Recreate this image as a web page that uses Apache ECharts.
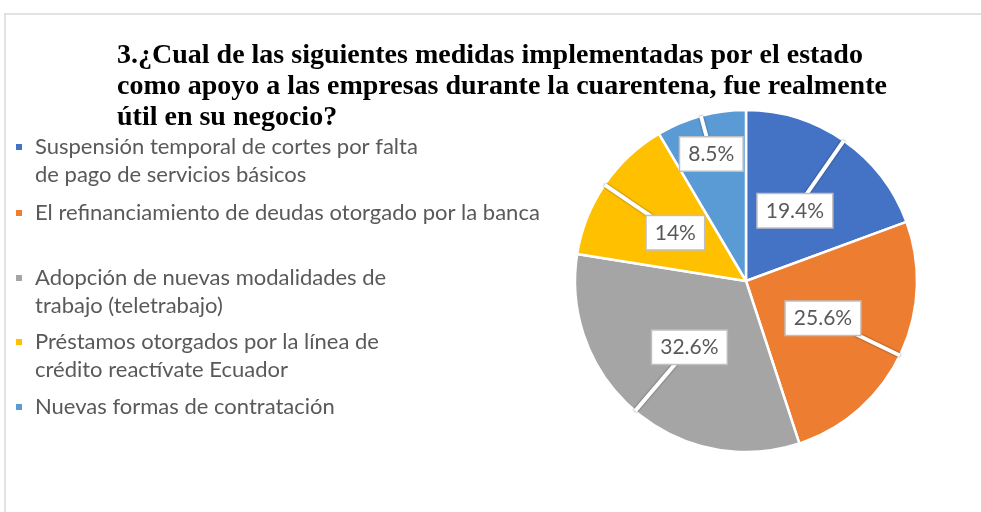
<!DOCTYPE html>
<html>
<head>
<meta charset="utf-8">
<script src="https://cdn.jsdelivr.net/npm/echarts@6/dist/echarts.min.js"></script>
<style>
  html, body { margin: 0; padding: 0; background: #fff; }
  #main { width: 981px; height: 512px; }
</style>
</head>
<body>
<div id="main"></div>
<script>
var myChart = echarts.init(document.getElementById('main'));

// categorias y porcentajes
var categorias = [
	'Suspensión temporal de cortes por falta\nde pago de servicios básicos',
	'El refinanciamiento de deudas otorgado por la banca',
	'Adopción de nuevas modalidades de\ntrabajo (teletrabajo)',
	'Préstamos otorgados por la línea de\ncrédito reactívate Ecuador',
	'Nuevas formas de contratación'
];
var valores = [19.4, 25.6, 32.6, 14, 8.5];
var colores = ['#4472C4', '#ED7D31', '#A5A5A5', '#FFC000', '#5B9BD5'];

var titulo = '3.¿Cual de las siguientes medidas implementadas por el estado\ncomo apoyo a las empresas durante la cuarentena, fue realmente\nútil en su negocio?';

// geometria del pastel
var cx = 746, cy = 281, R = 171;
// distancia relativa de cada etiqueta al centro
var distEtiqueta = [0.5, 0.5, 0.51, 0.5, 0.77];
// centro vertical del marcador de cada leyenda
var topLeyenda = [147, 213, 278, 342, 407];

var total = valores.reduce(function (a, b) { return a + b; }, 0);

function anguloMedio(i) {
	var acum = 0;
	for (var k = 0; k < i; k++) acum += valores[k];
	return (acum + valores[i] / 2) / total * Math.PI * 2;
}

var legends = categorias.map(function (c, i) {
	var dosLineas = c.indexOf('\n') >= 0;
	return {
		orient: 'vertical',
		left: 9,
		top: topLeyenda[i] - (dosLineas ? 42 : 14) - 5,
		icon: 'path://M0,0H8V8H0Z',
		itemWidth: 22,
		itemHeight: 8,
		itemGap: 0,
		selectedMode: false,
		data: [c],
		formatter: function (name) {
			return name.indexOf('\n') >= 0 ? ' \n' + name : name;
		},
		textStyle: {
			fontFamily: 'Lato',
			fontSize: 22,
			color: '#595959',
			lineHeight: 28
		}
	};
});

var option = {
	backgroundColor: '#ffffff',
	title: {
		text: titulo,
		left: 112,
		top: 35,
		textStyle: {
			fontFamily: 'Liberation Serif',
			fontWeight: 'bold',
			fontSize: 28,
			lineHeight: 31,
			color: '#000000'
		}
	},
	legend: legends,
	graphic: [
		{ type: 'line', shape: { x1: 4, y1: 14, x2: 981, y2: 14 }, style: { stroke: '#d9d9d9', lineWidth: 1.5 } },
		{ type: 'line', shape: { x1: 5, y1: 14, x2: 5, y2: 512 }, style: { stroke: '#d9d9d9', lineWidth: 1.5 } }
	],
	series: [{
		// pastel visible
		type: 'pie',
		center: [cx, cy],
		radius: R,
		startAngle: 90,
		clockwise: true,
		animation: false,
		itemStyle: {
			borderColor: '#ffffff',
			borderWidth: 2.5
		},
		label: { show: false },
		labelLine: { show: false },
		data: categorias.map(function (c, i) {
			return { name: c, value: valores[i], itemStyle: { color: colores[i] } };
		})
	}, {
		// capa transparente con las etiquetas tipo globo
		type: 'pie',
		z: 3,
		silent: true,
		left: 0,
		top: 0,
		width: 2000,
		height: 512,
		center: [cx, cy],
		radius: R,
		startAngle: 90,
		clockwise: true,
		animation: false,
		itemStyle: {
			color: 'rgba(0,0,0,0)',
			borderWidth: 0
		},
		label: {
			show: true,
			position: 'outside',
			formatter: '{c}%',
			fontFamily: 'Lato',
			fontSize: 21,
			color: '#595959',
			backgroundColor: '#ffffff',
			borderColor: '#bfbfbf',
			borderWidth: 1.5,
			padding: [7, 8, 5, 8]
		},
		labelLine: {
			show: true,
			length: 5,
			length2: 5,
			lineStyle: {
				color: '#ffffff',
				width: 4,
				shadowColor: 'rgba(0,0,0,0.55)',
				shadowBlur: 2
			}
		},
		labelLayout: function (p) {
			var a = anguloMedio(p.dataIndex);
			var sx = Math.sin(a), sy = -Math.cos(a);
			var k = distEtiqueta[p.dataIndex];
			var bx = cx + sx * R * k, by = cy + sy * R * k;
			return {
				x: bx,
				y: by,
				align: 'center',
				verticalAlign: 'middle',
				labelLinePoints: [[cx + sx * R, cy + sy * R], [bx, by]]
			};
		},
		data: valores
	}]
};

myChart.setOption(option);
</script>
</body>
</html>
